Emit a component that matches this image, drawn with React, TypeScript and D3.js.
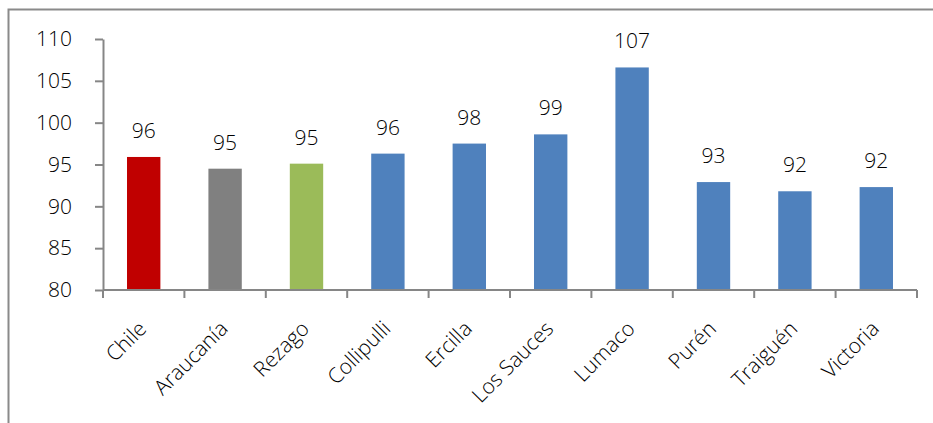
import React, { useEffect, useRef } from 'react';
import * as d3 from 'd3';

const categories = ['Chile', 'Araucanía', 'Rezago', 'Collipulli', 'Ercilla', 'Los Sauces', 'Lumaco', 'Purén', 'Traiguén', 'Victoria'];
const values = [95.9, 94.5, 95.1, 96.3, 97.5, 98.6, 106.6, 92.9, 91.8, 92.3];
const barColors = ['#C00000', '#808080', '#9BBB59', '#4F81BD', '#4F81BD', '#4F81BD', '#4F81BD', '#4F81BD', '#4F81BD', '#4F81BD'];
const yTicks = [80, 85, 90, 95, 100, 105, 110];

const FONT = "'Open Sans', 'Noto Sans', sans-serif";

const App: React.FC = () => {
  const svgRef = useRef<SVGSVGElement>(null);
  const width = 933;
  const height = 423;

  useEffect(() => {
    if (!svgRef.current) return;
    const svg = d3.select(svgRef.current);
    svg.selectAll('*').remove();

    const margin = { top: 39, right: 16, bottom: 133, left: 103 };
    const innerWidth = width - margin.left - margin.right;
    const innerHeight = height - margin.top - margin.bottom;

    // outer frame (right and bottom edges fall outside the picture)
    svg.append('rect')
      .attr('x', 8.5)
      .attr('y', 9.5)
      .attr('width', 1000)
      .attr('height', 1000)
      .attr('fill', 'white')
      .attr('stroke', '#8a8a8a')
      .attr('stroke-width', 2);

    const g = svg.append('g').attr('transform', `translate(${margin.left},${margin.top})`);

    const xScale = d3.scaleBand<string>().domain(categories).range([0, innerWidth]).paddingInner(0.59).paddingOuter(0.295);
    const yScale = d3.scaleLinear().domain([80, 110]).range([innerHeight, 0]);

    // bars
    g.selectAll('.bar')
      .data(categories)
      .enter()
      .append('rect')
      .attr('class', 'bar')
      .attr('x', d => xScale(d)!)
      .attr('y', (d, i) => yScale(values[i]))
      .attr('width', xScale.bandwidth())
      .attr('height', (d, i) => innerHeight - yScale(values[i]))
      .attr('fill', (d, i) => barColors[i]);

    // value labels
    g.selectAll('.val')
      .data(categories)
      .enter()
      .append('text')
      .attr('class', 'val')
      .attr('x', d => xScale(d)! + xScale.bandwidth() / 2)
      .attr('y', (d, i) => yScale(values[i]) - 19)
      .attr('text-anchor', 'middle')
      .style('font-family', FONT)
      .style('font-size', '21px')
      .style('font-weight', 300)
      .attr('fill', '#000')
      .text((d, i) => Math.round(values[i]).toString());

    // y axis
    const yAxis = g.append('g')
      .call(d3.axisLeft(yScale).tickValues(yTicks).tickSize(8).tickPadding(23).tickSizeOuter(0));
    yAxis.select('.domain').attr('stroke', '#868686').attr('stroke-width', 2);
    yAxis.selectAll('.tick line').attr('stroke', '#868686').attr('stroke-width', 2);
    yAxis.selectAll('.tick text')
      .style('font-family', FONT)
      .style('font-size', '21px')
      .style('font-weight', 300)
      .attr('fill', '#000');

    // x axis line and ticks at band boundaries
    const step = xScale.step();
    const xg = g.append('g').attr('transform', `translate(0,${innerHeight})`);
    xg.append('line')
      .attr('x1', 0)
      .attr('x2', innerWidth)
      .attr('stroke', '#868686')
      .attr('stroke-width', 2);
    xg.selectAll('.xt')
      .data(d3.range(categories.length + 1))
      .enter()
      .append('line')
      .attr('class', 'xt')
      .attr('x1', i => i * step)
      .attr('x2', i => i * step)
      .attr('y1', 0)
      .attr('y2', 8)
      .attr('stroke', '#868686')
      .attr('stroke-width', 2);

    // rotated category labels
    xg.selectAll('.xl')
      .data(categories)
      .enter()
      .append('text')
      .attr('class', 'xl')
      .attr('transform', d => `translate(${xScale(d)! + xScale.bandwidth() / 2 + 4},${40}) rotate(-45)`)
      .attr('text-anchor', 'end')
      .style('font-family', FONT)
      .style('font-size', '21px')
      .style('font-weight', 300)
      .attr('fill', '#000')
      .text(d => d);
  }, []);

  return (
    <svg
      ref={svgRef}
      width={width}
      height={height}
      style={{ position: 'absolute', left: 0, top: 0, background: 'white' }}
    />
  );
};

export default App;
